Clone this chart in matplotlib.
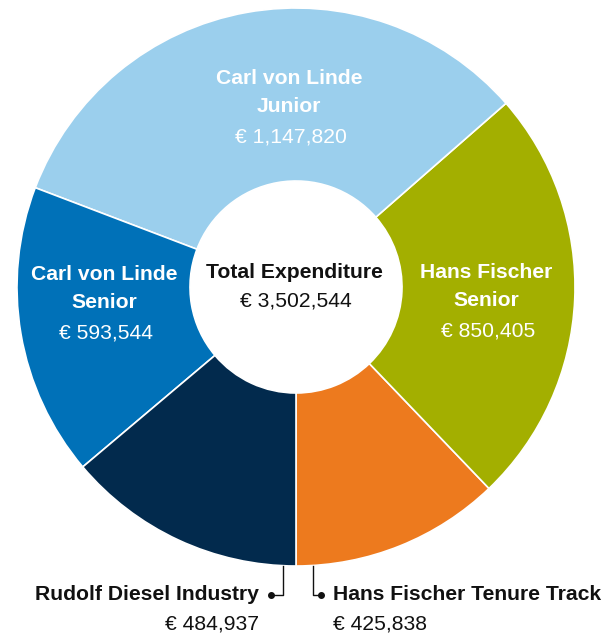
import matplotlib.pyplot as plt

# slices in drawing order (counter-clockwise from 6 o'clock)
names = ["Hans Fischer Tenure Track", "Hans Fischer\nSenior", "Carl von Linde\nJunior",
         "Carl von Linde\nSenior", "Rudolf Diesel Industry"]
values = [425838, 850405, 1147820, 593544, 484937]
colors = ["#ED7A1E", "#A3AF00", "#9BCFED", "#0071B8", "#022A4D"]
total = sum(values)

plt.rcParams['font.family'] = ['Liberation Sans', 'DejaVu Sans']

W, H = 615, 636
fig = plt.figure(figsize=(W / 100, H / 100), dpi=100)
ax = fig.add_axes([0, 0, 1, 1])

cx, cy = 296, H - 287
R, r = 279, 106
ax.pie(values, colors=colors, startangle=-90, counterclock=True,
       center=(cx, cy), radius=R, frame=True,
       wedgeprops=dict(width=R - r, edgecolor='white', linewidth=1.2))
ax.set_xlim(0, W)
ax.set_ylim(0, H)
ax.set_aspect('equal')
ax.axis('off')

def fmt(v):
    return f"€ {v:,}"

fs = 15.2
dark = '#111111'
# inside labels: two bold lines + value, 30 px apart
inner = [(1, 486, 272), (2, 289, 78), (3, 104, 274)]
for i, x, y in inner:
    for k, line in enumerate(names[i].split("\n")):
        ax.text(x, H - (y + 29 * k), line, color='white', fontsize=fs, fontweight='bold',
                ha='center', va='center')
    ax.text(x + 2, H - (y + 59), fmt(values[i]), color='white', fontsize=fs,
            ha='center', va='center')

# centre
ax.text(294, H - 272, "Total Expenditure", fontsize=fs, fontweight='bold',
        ha='center', va='center', color=dark)
ax.text(296, H - 301, fmt(total), fontsize=fs, ha='center', va='center', color=dark)

# outside labels with leader lines
ax.plot([283, 283, 271], [H - 566, H - 595, H - 595], color=dark, lw=1)
ax.plot([271], [H - 595], 'o', color=dark, ms=4)
ax.text(259, H - 595, names[4], fontsize=fs, fontweight='bold', ha='right', va='center', color=dark)
ax.text(259, H - 624, fmt(values[4]), fontsize=fs, ha='right', va='center', color=dark)

ax.plot([313, 313, 321], [H - 566, H - 595, H - 595], color=dark, lw=1)
ax.plot([321], [H - 595], 'o', color=dark, ms=4)
ax.text(333, H - 595, names[0], fontsize=fs, fontweight='bold', ha='left', va='center', color=dark)
ax.text(333, H - 624, fmt(values[0]), fontsize=fs, ha='left', va='center', color=dark)

fig.savefig("out.png", dpi=100)
